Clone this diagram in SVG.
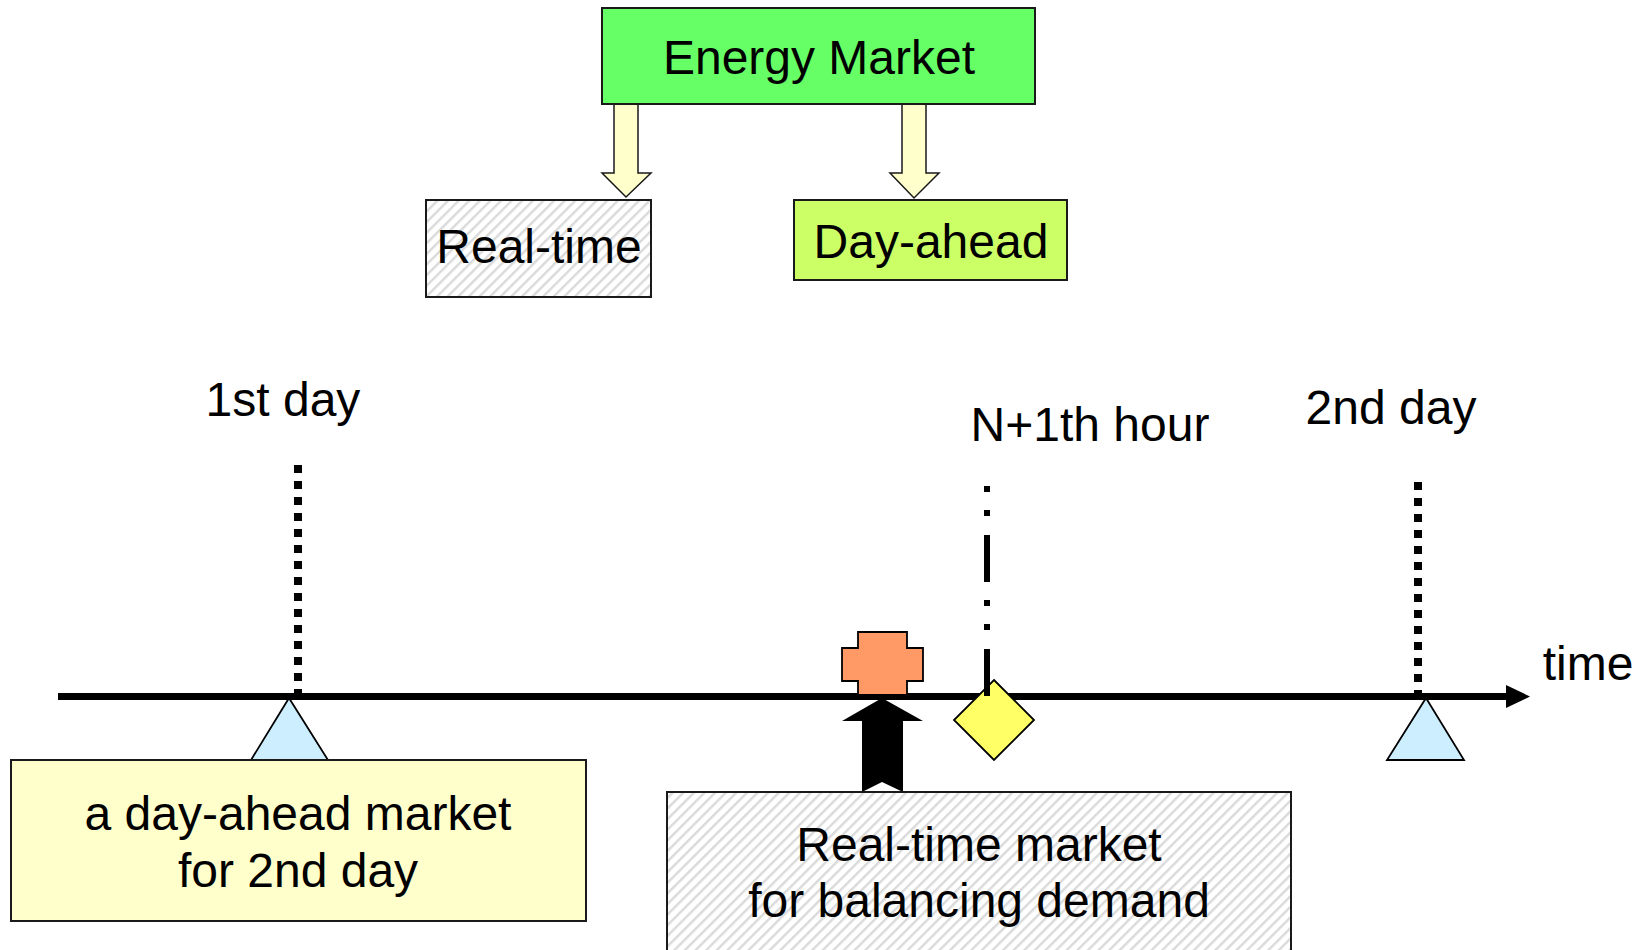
<svg xmlns="http://www.w3.org/2000/svg" width="1651" height="950" viewBox="0 0 1651 950">
<defs>
<pattern id="hatch" patternUnits="userSpaceOnUse" width="7.5" height="7.5" patternTransform="rotate(45)">
<rect width="7.5" height="7.5" fill="#ffffff"/>
<rect x="0" y="0" width="2.4" height="7.5" fill="#dadada"/>
</pattern>
<style>
.t{font-family:"Liberation Sans",Arial,sans-serif;font-size:48px;fill:#000;text-anchor:middle}
.box{stroke:#1a1a1a;stroke-width:2}
.blk{fill:#ffffcc;stroke:#1a1a1a;stroke-width:1.5}
.shape{stroke:#000;stroke-width:1.8}
.dots{stroke:#000;stroke-width:8;stroke-dasharray:8 8;fill:none}
</style>
</defs>
<rect width="1651" height="950" fill="#ffffff"/>

<g id="connectors">
<polygon class="blk" points="614,104 638,104 638,173 651,173 626,197 602,173 614,173"/>
<polygon class="blk" points="902,104 926,104 926,173 939,173 914,198 890,173 902,173"/>
<line x1="58" y1="696.5" x2="1510" y2="696.5" stroke="#000" stroke-width="7"/>
<polygon points="1506,685 1530,696.5 1506,708" fill="#000"/>
</g>

<g id="energy-market">
<rect class="box" x="602" y="8" width="433" height="96" fill="#66ff66"/>
<text class="t" x="819" y="74">Energy Market</text>
</g>

<g id="real-time">
<rect class="box" x="426" y="200" width="225" height="97" fill="url(#hatch)"/>
<text class="t" x="539" y="263">Real-time</text>
</g>

<g id="day-ahead">
<rect class="box" x="794" y="200" width="273" height="80" fill="#ccff66"/>
<text class="t" x="931" y="258">Day-ahead</text>
</g>

<g id="first-day">
<text class="t" x="283" y="416">1st day</text>
<line class="dots" x1="298" y1="465" x2="298" y2="693"/>
</g>

<g id="second-day">
<text class="t" x="1391" y="424">2nd day</text>
<line class="dots" x1="1418" y1="482" x2="1418" y2="693"/>
</g>

<g id="time-label">
<text class="t" x="1588" y="680">time</text>
</g>

<g id="cross">
<polygon class="shape" fill="#ff9966" points="858,632 907,632 907,648 923,648 923,681 907,681 907,695 858,695 858,681 842,681 842,648 858,648"/>
</g>

<g id="up-arrow">
<polygon fill="#000" points="882,698 923,721 903,721 903,792 882,782 862,792 862,721 842,721"/>
</g>

<g id="n1-hour">
<text class="t" x="1090" y="441">N+1th hour</text>
<polygon class="shape" fill="#ffff66" points="994,680 1034,720 994,760 954,720"/>
<line x1="987" y1="486" x2="987" y2="696" stroke="#000" stroke-width="6" stroke-dasharray="6 18 6 19 47 18"/>
</g>

<g id="triangle-1">
<polygon class="shape" fill="#cceeff" points="289,698 328,760 251,760"/>
</g>

<g id="triangle-2">
<polygon class="shape" fill="#cceeff" points="1426,698 1464,760 1387,760"/>
</g>

<g id="day-ahead-market">
<rect class="box" x="11" y="760" width="575" height="161" fill="#ffffcc"/>
<text class="t" x="298" y="830">a day-ahead market</text>
<text class="t" x="298" y="887">for 2nd day</text>
</g>

<g id="real-time-market">
<rect class="box" x="667" y="792" width="624" height="170" fill="url(#hatch)"/>
<text class="t" x="979" y="861">Real-time market</text>
<text class="t" x="979" y="917">for balancing demand</text>
</g>
</svg>
